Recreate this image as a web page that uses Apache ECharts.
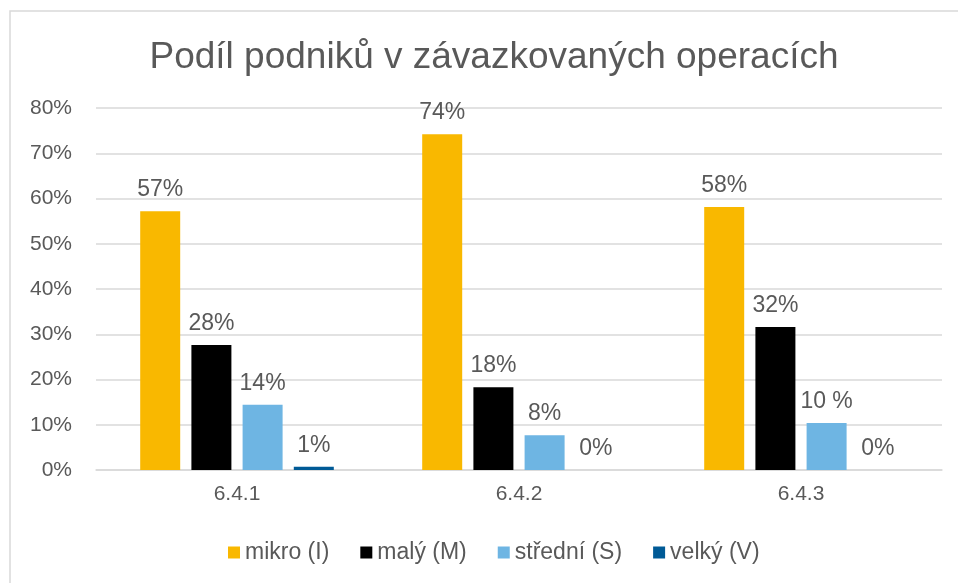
<!DOCTYPE html>
<html>
<head>
<meta charset="utf-8">
<script src="https://cdn.jsdelivr.net/npm/echarts@6/dist/echarts.min.js"></script>
<style>html,body{margin:0;padding:0;background:#fff}#c{width:958px;height:583px}</style>
</head>
<body>
<div id="c"></div>
<script>
const titleText = 'Podíl podniků v závazkovaných operacích';
const categories = ['6.4.1', '6.4.2', '6.4.3'];
const seriesNames = ['mikro (I)', 'malý (M)', 'střední (S)', 'velký (V)'];
const mikro = [57.2, 74.2, 58.1];
const maly = [27.6, 18.3, 31.6];
const stredni = [14.4, 7.7, 10.4];
const velky = [0.7, 0, 0];
const mikroLabels = ['57%', '74%', '58%'];
const malyLabels = ['28%', '18%', '32%'];
const stredniLabels = ['14%', '8%', '10 %'];
const velkyLabels = ['1%', '0%', '0%'];
const yTicks = [0, 10, 20, 30, 40, 50, 60, 70, 80];

const colors = ['#F9B800', '#000000', '#6EB5E3', '#005A96'];
const values = [mikro, maly, stredni, velky];
const labels = [mikroLabels, malyLabels, stredniLabels, velkyLabels];
const font = '"Liberation Sans", Arial, sans-serif';

const chart = echarts.init(document.getElementById('c'), null, {renderer: 'canvas'});
chart.setOption({
  animation: false,
  backgroundColor: '#fff',
  graphic: [{
    type: 'rect', shape: {x: 10, y: 11, width: 1000, height: 700},
    style: {fill: 'none', stroke: '#d9d9d9', lineWidth: 1.5}, silent: true
  }],
  title: {
    text: titleText, left: 489, top: 34, textAlign: 'center',
    textStyle: {fontFamily: font, fontSize: 37, fontWeight: 'normal', color: '#595959'}
  },
  grid: {left: 96, right: 16, top: 108, bottom: 113, containLabel: false},
  legend: {
    data: seriesNames, left: 223, top: 536, itemWidth: 12, itemHeight: 12, itemGap: 31,
    icon: 'rect',
    textStyle: {fontFamily: font, fontSize: 23, color: '#595959'}
  },
  xAxis: {
    type: 'category', data: categories,
    axisLine: {lineStyle: {color: '#d9d9d9', width: 1.5}},
    axisTick: {show: false},
    axisLabel: {fontFamily: font, fontSize: 21, color: '#595959', margin: 14}
  },
  yAxis: {
    type: 'value', min: yTicks[0], max: yTicks[yTicks.length - 1], interval: 10,
    axisLine: {show: false}, axisTick: {show: false},
    splitLine: {lineStyle: {color: '#d9d9d9', width: 1.5}},
    axisLabel: {fontFamily: font, fontSize: 21, color: '#595959', margin: 24, formatter: v => v + '%'}
  },
  series: seriesNames.map((name, i) => ({
    name: name, type: 'bar', barWidth: 40, barGap: '28%',
    itemStyle: {color: colors[i]},
    data: values[i],
    label: {
      show: true, position: 'top', distance: 10,
      fontFamily: font, fontSize: 23, color: '#595959',
      formatter: p => labels[i][p.dataIndex]
    }
  }))
});
</script>
</body>
</html>
